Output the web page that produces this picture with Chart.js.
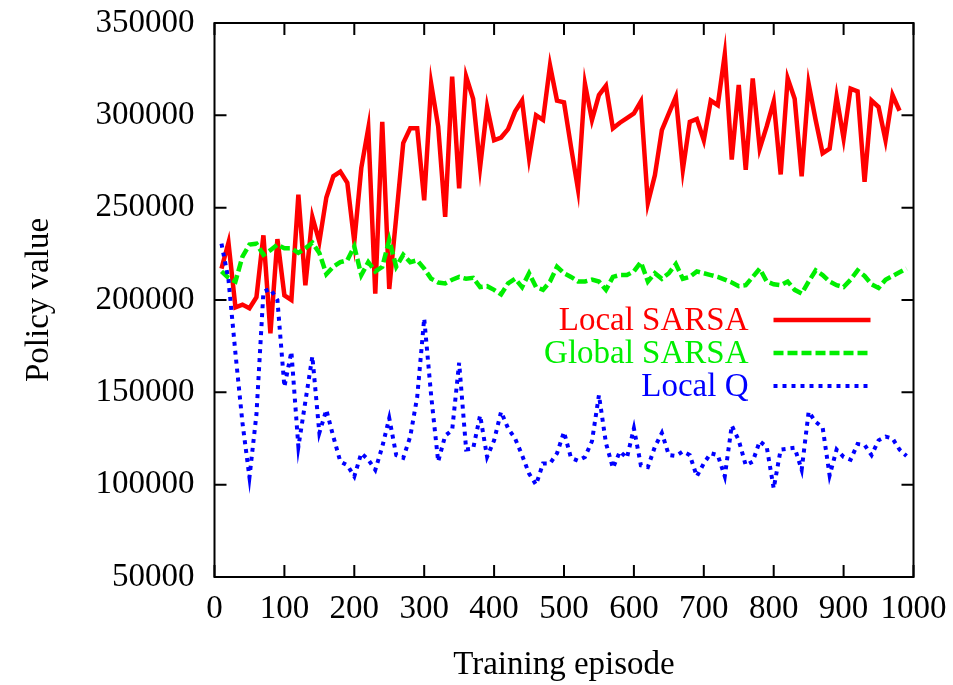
<!DOCTYPE html>
<html>
<head>
<meta charset="utf-8">
<script src="https://cdn.jsdelivr.net/npm/chart.js@4.4.0/dist/chart.umd.min.js"></script>
<style>
  html, body { margin: 0; padding: 0; background: #ffffff; }
  #wrap { width: 953px; height: 685px; }
</style>
</head>
<body>
<div id="wrap"><canvas id="policyChart" width="953" height="685"></canvas></div>
<script>
// Episódios de treino (eixo x)
const episodes = [10, 20, 30, 40, 50, 60, 70, 80, 90, 100,
  110, 120, 130, 140, 150, 160, 170, 180, 190, 200,
  210, 220, 230, 240, 250, 260, 270, 280, 290, 300,
  310, 320, 330, 340, 350, 360, 370, 380, 390, 400,
  410, 420, 430, 440, 450, 460, 470, 480, 490, 500,
  510, 520, 530, 540, 550, 560, 570, 580, 590, 600,
  610, 620, 630, 640, 650, 660, 670, 680, 690, 700,
  710, 720, 730, 740, 750, 760, 770, 780, 790, 800,
  810, 820, 830, 840, 850, 860, 870, 880, 890, 900,
  910, 920, 930, 940, 950, 960, 970, 980, 990];

const localSarsa = [217000, 231000, 196000, 197500, 195500, 201500, 235000, 182000, 233000, 202500,
  200000, 257000, 208000, 245000, 231500, 255500, 267000, 269500, 263500, 231500,
  271500, 293000, 203500, 296500, 206000, 245000, 285000, 293000, 293000, 254000,
  317000, 294000, 245000, 321000, 260500, 321000, 309000, 272000, 304500, 286500,
  288000, 292500, 302000, 308000, 277000, 300000, 297500, 327000, 308000, 307000,
  283000, 260000, 317000, 297500, 311000, 316000, 293000, 296000, 298500, 301000,
  307500, 252500, 267500, 292000, 301000, 310000, 270500, 296500, 298000, 286500,
  308000, 305500, 333000, 276000, 316500, 270500, 320000, 282000, 294000, 307500,
  268000, 320000, 309000, 267000, 317000, 297500, 279500, 282000, 310000, 287500,
  314500, 313000, 264000, 308000, 304500, 286500, 311000, 302500, null];

const globalSarsa = [215500, 212000, 210000, 223500, 230000, 230500, 224500, 227000, 230000, 228000,
  228000, 225500, 228000, 231000, 225500, 214000, 218000, 220500, 221500, 229000,
  213500, 220500, 215500, 218000, 232500, 218000, 224500, 220500, 221500, 217000,
  211500, 209500, 209000, 211000, 212500, 211500, 212000, 207000, 207500, 205500,
  203000, 209000, 211500, 207000, 214500, 207000, 205500, 210000, 218000, 214500,
  212500, 210000, 210000, 211000, 210000, 205500, 212500, 213500, 213500, 215500,
  220500, 210000, 214500, 211500, 214500, 219500, 211500, 212500, 215500, 214500,
  213500, 212500, 211000, 209500, 207500, 208000, 212500, 217000, 210000, 208500,
  208000, 210000, 205500, 203500, 210000, 216000, 213500, 210000, 208000, 207000,
  211000, 216000, 213000, 208500, 206500, 211000, 213000, 215000, 217000];

const localQ = [230500, 211000, 171000, 133500, 104000, 138000, 204500, 206000, 200000, 153000,
  172000, 120500, 145000, 169500, 128000, 140500, 126000, 112500, 110500, 104500,
  117000, 113500, 108000, 120500, 136000, 116000, 114500, 126000, 147500, 190000,
  148000, 112500, 126500, 129500, 166000, 119000, 119500, 137500, 115000, 124000,
  139500, 130500, 125000, 116000, 106000, 100000, 111500, 111500, 117000, 128500,
  114500, 113000, 115000, 123500, 148500, 122500, 109000, 118000, 114500, 130500,
  110500, 109500, 120500, 128000, 116000, 115500, 118000, 116000, 104500, 111500,
  117000, 116000, 104500, 132000, 124000, 110500, 112500, 123500, 120500, 98000,
  119000, 119500, 120000, 108000, 139500, 134000, 131000, 105000, 119000, 115000,
  113500, 122000, 121500, 116000, 124000, 126000, 125000, 119000, 115500];

const yTicks = [50000, 100000, 150000, 200000, 250000, 300000, 350000];
const xTicks = [0, 100, 200, 300, 400, 500, 600, 700, 800, 900, 1000];

const seriesNames = ['Local SARSA', 'Global SARSA', 'Local Q'];

const FONT = '"Liberation Serif", "Times New Roman", serif';

// Junta x e y em pontos
function toPoints(values) {
  return episodes.map((e, i) => ({ x: e, y: values[i] }));
}

// Moldura e marcas de escala para dentro (estilo gnuplot)
const framePlugin = {
  id: 'frame',
  afterDatasetsDraw(chart) {
    const ctx = chart.ctx;
    const a = chart.chartArea;
    const xs = chart.scales.x;
    const ys = chart.scales.y;
    const len = 12;
    ctx.save();
    ctx.strokeStyle = '#000000';
    ctx.lineWidth = 2;
    ctx.beginPath();
    yTicks.forEach(v => {
      const py = ys.getPixelForValue(v);
      ctx.moveTo(a.left, py); ctx.lineTo(a.left + len, py);
      ctx.moveTo(a.right, py); ctx.lineTo(a.right - len, py);
    });
    xTicks.forEach(v => {
      const px = xs.getPixelForValue(v);
      ctx.moveTo(px, a.bottom); ctx.lineTo(px, a.bottom - len);
      ctx.moveTo(px, a.top); ctx.lineTo(px, a.top + len);
    });
    ctx.stroke();
    ctx.strokeRect(a.left, a.top, a.right - a.left, a.bottom - a.top);
    ctx.restore();
  }
};

// Legenda dentro do gráfico, texto alinhado à direita e amostra da linha
const keyPlugin = {
  id: 'key',
  afterDatasetsDraw(chart) {
    const ctx = chart.ctx;
    const a = chart.chartArea;
    const textRight = a.right - 165;
    const lineStart = a.right - 140;
    const lineEnd = a.right - 43;
    const firstY = a.top + 297;
    const step = 33;
    ctx.save();
    ctx.font = '33px ' + FONT;
    ctx.textAlign = 'right';
    ctx.textBaseline = 'middle';
    seriesNames.forEach((name, i) => {
      const ds = chart.data.datasets.find(d => d.label === name);
      const y = firstY + i * step;
      ctx.fillStyle = ds.borderColor;
      ctx.fillText(name, textRight, y + 1);
      ctx.strokeStyle = ds.borderColor;
      ctx.lineWidth = ds.borderWidth;
      ctx.setLineDash(ds.borderDash || []);
      ctx.beginPath();
      ctx.moveTo(lineStart, y);
      ctx.lineTo(lineEnd, y);
      ctx.stroke();
    });
    ctx.restore();
  }
};

function initChart() {
  const ctx = document.getElementById('policyChart').getContext('2d');
  new Chart(ctx, {
    type: 'line',
    data: {
      datasets: [
        {
          label: 'Local SARSA',
          data: toPoints(localSarsa),
          borderColor: '#ff0000',
          borderWidth: 4.5,
          order: 3
        },
        {
          label: 'Global SARSA',
          data: toPoints(globalSarsa),
          borderColor: '#00ee00',
          borderWidth: 4.5,
          borderDash: [10, 4],
          order: 2
        },
        {
          label: 'Local Q',
          data: toPoints(localQ),
          borderColor: '#0000ff',
          borderWidth: 4,
          borderDash: [4, 5],
          order: 1
        }
      ]
    },
    options: {
      responsive: false,
      animation: false,
      spanGaps: false,
      layout: { padding: { top: 23, right: 39.5, left: 0, bottom: 0 } },
      elements: {
        point: { radius: 0 },
        line: { tension: 0, borderJoinStyle: 'miter', borderCapStyle: 'butt', fill: false }
      },
      plugins: {
        legend: { display: false },
        tooltip: { enabled: false }
      },
      scales: {
        x: {
          type: 'linear',
          min: 0,
          max: 1000,
          grid: { display: false, drawTicks: false },
          border: { display: false },
          afterBuildTicks: scale => { scale.ticks = xTicks.map(v => ({ value: v })); },
          ticks: {
            color: '#000000',
            padding: 13,
            maxRotation: 0,
            font: { family: FONT, size: 33 },
            callback: v => String(v)
          },
          title: {
            display: true,
            text: 'Training episode',
            color: '#000000',
            padding: { top: 6, bottom: 0 },
            font: { family: FONT, size: 33 }
          },
          afterFit: scale => {
            scale.height = 108;
            scale.paddingLeft = 0;
            scale.paddingRight = 0;
          }
        },
        y: {
          min: 50000,
          max: 350000,
          grid: { display: false, drawTicks: false },
          border: { display: false },
          afterBuildTicks: scale => { scale.ticks = yTicks.map(v => ({ value: v })); },
          ticks: {
            color: '#000000',
            padding: 20,
            font: { family: FONT, size: 33 },
            callback: v => String(v)
          },
          title: {
            display: true,
            text: 'Policy value',
            color: '#000000',
            padding: { top: 20, bottom: 10 },
            font: { family: FONT, size: 33 }
          },
          afterFit: scale => {
            scale.width = 214.5;
            scale.paddingTop = 0;
            scale.paddingBottom = 0;
          }
        }
      }
    },
    plugins: [framePlugin, keyPlugin]
  });
}

if (document.readyState === 'loading') {
  document.addEventListener('DOMContentLoaded', initChart);
} else {
  initChart();
}
</script>
</body>
</html>
